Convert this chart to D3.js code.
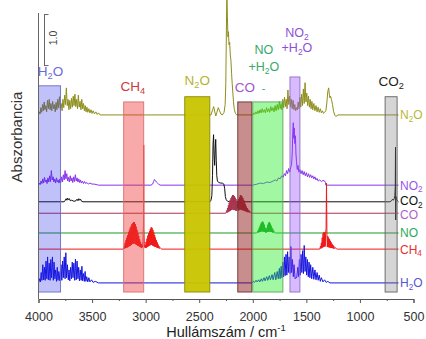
<!DOCTYPE html>
<html><head><meta charset="utf-8">
<script src="https://cdn.jsdelivr.net/npm/d3@7"></script>
<style>body{margin:0;background:#fff}svg{display:block}text{font-family:"Liberation Sans",Arial,sans-serif}</style>
</head><body><svg id="c" width="426" height="339"></svg>
<script>
// ---------------- DATA ----------------
const xTicks = [4000, 3500, 3000, 2500, 2000, 1500, 1000, 500];
const xMinorTicks = [3750, 3250, 2750, 2250, 1750, 1250, 750];
const seriesNames = ["N_2O", "NO_2", "CO_2", "CO", "NO", "CH_4", "H_2O"];
const seriesOffsets = [3.52, 2.17, 1.85, 1.63, 1.25, 0.94, 0.29];

const specN2O = [[4000,0],[3992,0.06],[3985,0.02],[3978,0.14],[3970,0.05],[3962,0.2],[3955,0.08],[3947,0.25],[3940,0.1],[3932,0.18],[3924,0.06],[3916,0.28],[3908,0.12],[3900,0.3],[3892,0.1],[3884,0.22],[3876,0.08],[3868,0.26],[3860,0.12],[3852,0.2],[3844,0.06],[3836,0.24],[3828,0.1],[3820,0.3],[3812,0.14],[3804,0.35],[3796,0.12],[3788,0.22],[3780,0.08],[3772,0.3],[3764,0.14],[3756,0.38],[3748,0.2],[3740,0.52],[3732,0.18],[3724,0.3],[3716,0.1],[3708,0.28],[3700,0.12],[3692,0.32],[3684,0.15],[3676,0.36],[3668,0.18],[3660,0.4],[3652,0.16],[3644,0.3],[3636,0.12],[3628,0.38],[3620,0.15],[3612,0.26],[3604,0.1],[3596,0.3],[3588,0.12],[3580,0.22],[3572,0.08],[3564,0.18],[3556,0.06],[3548,0.15],[3540,0.05],[3530,0.12],[3520,0.04],[3510,0.1],[3500,0.03],[3490,0.08],[3478,0.02],[3465,0.06],[3452,0.01],[3440,0.04],[3425,0],
  [2390,0],[2375,0.1],[2365,0.16],[2355,0.06],[2345,-0.02],[2335,0.05],[2322,0.14],[2310,0.08],[2298,0.02],[2285,0],[2268,0.05],[2258,0.2],[2252,0.6],[2247,1.5],[2242,2.4],[2237,1.9],[2232,1.5],[2227,1.6],[2222,1.35],[2216,1.4],[2210,1.15],[2204,1.05],[2198,0.8],[2192,0.6],[2186,0.42],[2180,0.25],[2172,0.1],[2162,0.03],[2150,0],
  [2000,0],[1990,0.04],[1982,0.01],[1972,0.06],[1962,0.02],[1952,0.08],[1942,0.03],[1932,0.1],[1922,0.04],[1912,0.12],[1902,0.05],[1892,0.1],[1882,0.04],[1872,0.14],[1862,0.06],[1852,0.12],[1842,0.05],[1832,0.16],[1822,0.08],[1812,0.14],[1802,0.06],[1792,0.18],[1782,0.08],[1772,0.2],[1762,0.1],[1752,0.26],[1744,0.12],[1736,0.22],[1728,0.1],[1720,0.3],[1712,0.14],[1704,0.34],[1696,0.16],[1688,0.3],[1680,0.12],[1672,0.48],[1664,0.2],[1656,0.36],[1648,0.15],[1640,0.3],[1632,0.12],[1624,0.28],[1616,0.1],[1608,0.2],[1600,0.08],[1592,0.14],[1584,0.1],[1576,0.25],[1568,0.12],[1560,0.34],[1552,0.15],[1544,0.4],[1536,0.18],[1528,0.5],[1520,0.22],[1512,0.62],[1504,0.25],[1496,0.42],[1488,0.18],[1480,0.36],[1472,0.15],[1464,0.3],[1456,0.12],[1448,0.26],[1440,0.1],[1430,0.22],[1420,0.08],[1410,0.18],[1400,0.06],[1390,0.15],[1380,0.05],[1370,0.12],[1360,0.04],[1350,0.08],[1340,0.03],[1330,0.05],
  [1318,0.08],[1308,0.25],[1300,0.45],[1292,0.52],[1286,0.4],[1280,0.33],[1274,0.36],[1266,0.3],[1256,0.2],[1246,0.07],[1236,0],[1225,-0.03],[1205,0],[640,0]];

const specNO2 = [[4000,0],[3992,0.04],[3984,0.01],[3976,0.08],[3968,0.03],[3960,0.12],[3952,0.04],[3944,0.15],[3936,0.06],[3928,0.1],[3920,0.03],[3912,0.14],[3904,0.06],[3896,0.18],[3888,0.07],[3880,0.28],[3872,0.1],[3864,0.16],[3856,0.06],[3848,0.12],[3840,0.04],[3832,0.14],[3824,0.06],[3816,0.1],[3808,0.04],[3800,0.12],[3792,0.05],[3784,0.16],[3776,0.06],[3768,0.2],[3760,0.1],[3752,0.28],[3744,0.12],[3736,0.22],[3728,0.08],[3720,0.15],[3712,0.06],[3704,0.18],[3696,0.08],[3688,0.14],[3680,0.05],[3672,0.16],[3664,0.07],[3656,0.2],[3648,0.08],[3640,0.14],[3632,0.06],[3624,0.12],[3616,0.05],[3608,0.1],[3600,0.04],[3590,0.08],[3580,0.03],[3570,0.07],[3560,0.03],[3548,0.05],[3535,0.02],[3520,0.04],[3500,0.02],[3480,0.02],[3440,0],
  [2950,0],[2935,0.02],[2925,0.07],[2918,0.11],[2910,0.09],[2900,0.06],[2890,0.04],[2880,0.02],[2865,0],
  [2000,0],[1960,0.02],[1930,0.04],[1900,0.03],[1870,0.06],[1840,0.05],[1810,0.08],[1790,0.1],[1775,0.08],[1760,0.14],[1745,0.12],[1730,0.18],[1718,0.15],[1705,0.22],[1695,0.18],[1685,0.28],[1675,0.22],[1665,0.32],[1655,0.25],[1645,0.35],[1638,0.4],[1632,0.6],[1627,1.0],[1622,1.2],[1618,0.9],[1613,1.1],[1608,0.8],[1602,0.95],[1597,0.6],[1592,0.45],[1585,0.3],[1578,0.38],[1570,0.25],[1560,0.3],[1550,0.22],[1540,0.28],[1530,0.2],[1520,0.26],[1510,0.18],[1500,0.24],[1490,0.16],[1480,0.22],[1470,0.15],[1460,0.2],[1450,0.14],[1440,0.18],[1430,0.12],[1420,0.16],[1410,0.1],[1400,0.13],[1390,0.08],[1375,0.1],[1360,0.07],[1345,0.09],[1330,0.08],[1322,0.05],[1318,0],[640,0]];

const specCO2 = [[4000,0],[3760,0],[3750,0.03],[3742,0.06],[3735,0.03],[3728,0.07],[3720,0.04],[3712,0.06],[3704,0.02],[3690,0.03],[3670,0.01],[3650,0.02],[3640,0.05],[3632,0.02],[3624,0.06],[3616,0.03],[3608,0.05],[3598,0.01],[3585,0],
  [2400,0],[2390,0.03],[2382,0.12],[2376,0.5],[2371,1.1],[2366,1.29],[2361,0.9],[2356,0.7],[2351,1.0],[2346,1.2],[2341,0.8],[2336,0.5],[2330,0.4],[2318,0.37],[2300,0.36],[2285,0.36],[2270,0.34],[2262,0.25],[2256,0.1],[2248,0.04],[2235,0.01],[2220,0],
  [720,0],[705,0.02],[695,0.05],[688,0.03],[680,0.06],[674,0.12],[670,0.3],[668,1.05],[666,-0.35],[664,0.1],[658,0.04],[650,0.02],[640,0]];

const specCO = [[4000,0],[2252,0],[2248,0.02],[2244,0.05],[2240,0.01],[2236,0.1],[2232,0.02],[2228,0.15],[2224,0.03],[2220,0.2],[2216,0.04],[2212,0.25],[2208,0.05],[2204,0.29],[2200,0.06],[2196,0.32],[2192,0.07],[2188,0.35],[2184,0.07],[2180,0.35],[2176,0.06],[2172,0.33],[2168,0.06],[2164,0.3],[2160,0.05],[2156,0.27],[2152,0.05],[2148,0.23],[2144,0.1],[2140,0.22],[2136,0.05],[2132,0.27],[2128,0.06],[2124,0.31],[2120,0.07],[2116,0.35],[2112,0.07],[2108,0.34],[2104,0.06],[2100,0.32],[2096,0.06],[2092,0.29],[2088,0.05],[2084,0.25],[2080,0.05],[2076,0.21],[2072,0.04],[2068,0.17],[2064,0.03],[2060,0.13],[2056,0.03],[2052,0.1],[2048,0.02],[2044,0.07],[2040,0.02],[2034,0.05],[2028,0.01],[2020,0.02],[2010,0],[640,0]];

const specNO = [[4000,0],[1964,0],[1960,0.01],[1956,0.03],[1952,0.01],[1948,0.06],[1944,0.01],[1940,0.1],[1936,0.02],[1932,0.14],[1928,0.02],[1924,0.18],[1920,0.03],[1916,0.21],[1912,0.03],[1908,0.22],[1904,0.03],[1900,0.2],[1896,0.02],[1892,0.16],[1888,0.02],[1884,0.1],[1880,0.01],[1876,0.05],[1872,0.01],[1868,0.1],[1864,0.02],[1860,0.16],[1856,0.02],[1852,0.2],[1848,0.03],[1844,0.21],[1840,0.02],[1836,0.18],[1832,0.02],[1828,0.14],[1824,0.02],[1820,0.1],[1816,0.01],[1812,0.07],[1808,0.01],[1804,0.04],[1798,0.01],[1790,0],[640,0]];

const specCH4 = [[4000,0],[3208,0],[3204,0.02],[3200,0.06],[3196,0.01],[3192,0.12],[3188,0.02],[3184,0.17],[3180,0.03],[3176,0.22],[3172,0.03],[3168,0.27],[3164,0.04],[3160,0.32],[3156,0.05],[3152,0.36],[3148,0.06],[3144,0.41],[3140,0.07],[3136,0.44],[3132,0.08],[3128,0.48],[3124,0.1],[3120,0.5],[3116,0.1],[3112,0.52],[3108,0.12],[3104,0.52],[3100,0.1],[3096,0.48],[3092,0.09],[3088,0.43],[3084,0.08],[3080,0.37],[3076,0.07],[3072,0.31],[3068,0.06],[3064,0.25],[3060,0.05],[3056,0.19],[3052,0.04],[3048,0.14],[3044,0.03],[3040,0.1],[3036,0.02],[3032,0.07],[3028,0.04],[3024,0.15],[3020,0.5],[3018,2.0],[3016,0.4],[3012,0.08],[3008,0.03],
  [3004,0.08],[3000,0.02],[2996,0.14],[2992,0.03],[2988,0.2],[2984,0.04],[2980,0.26],[2976,0.05],[2972,0.31],[2968,0.06],[2964,0.35],[2960,0.07],[2956,0.39],[2952,0.08],[2948,0.42],[2944,0.08],[2940,0.41],[2936,0.07],[2932,0.37],[2928,0.06],[2924,0.32],[2920,0.05],[2916,0.27],[2912,0.04],[2908,0.22],[2904,0.04],[2900,0.17],[2896,0.03],[2892,0.13],[2888,0.02],[2884,0.09],[2880,0.02],[2876,0.06],[2872,0.01],[2866,0.03],[2858,0.01],[2850,0],
  [1376,0],[1372,0.02],[1368,0.06],[1364,0.01],[1360,0.12],[1356,0.02],[1352,0.22],[1348,0.03],[1344,0.3],[1340,0.04],[1336,0.33],[1332,0.05],[1328,0.32],[1324,0.05],[1320,0.3],[1316,0.4],[1312,1.27],[1308,0.28],[1304,0.04],[1300,0.25],[1296,0.04],[1292,0.22],[1288,0.03],[1284,0.19],[1280,0.03],[1276,0.16],[1272,0.02],[1268,0.13],[1264,0.02],[1260,0.1],[1256,0.02],[1252,0.08],[1248,0.01],[1244,0.06],[1240,0.01],[1232,0.03],[1222,0.01],[1210,0],[640,0]];

const specH2O = [[4000,0],[3990,0.08],[3982,0.02],[3975,0.2],[3968,0.05],[3960,0.35],[3952,0.06],[3945,0.3],[3938,0.05],[3930,0.42],[3922,0.08],[3915,0.5],[3908,0.06],[3900,0.38],[3892,0.05],[3885,0.45],[3878,0.1],[3870,0.5],[3862,0.05],[3855,0.4],[3847,0.08],[3840,0.25],[3832,0.03],[3825,0.3],[3818,0.05],[3810,0.22],[3800,0.04],[3790,0.35],[3782,0.05],[3775,0.42],[3768,0.1],[3760,0.5],[3752,0.08],[3745,0.58],[3738,0.1],[3730,0.35],[3722,0.06],[3715,0.25],[3708,0.04],[3700,0.3],[3692,0.08],[3685,0.4],[3678,0.1],[3670,0.38],[3662,0.05],[3655,0.46],[3648,0.06],[3640,0.42],[3632,0.08],[3625,0.3],[3618,0.04],[3610,0.25],[3602,0.05],[3595,0.32],[3588,0.04],[3580,0.18],[3572,0.03],[3565,0.22],[3558,0.03],[3550,0.12],[3540,0.02],[3530,0.1],[3520,0.02],[3505,0.06],[3490,0.01],[3470,0.03],[3440,0],
  [2010,0],[1995,0.03],[1985,0.01],[1970,0.05],[1960,0.02],[1945,0.06],[1935,0.02],[1920,0.08],[1910,0.03],[1895,0.1],[1885,0.04],[1870,0.12],[1860,0.05],[1845,0.14],[1835,0.06],[1820,0.16],[1810,0.06],[1795,0.2],[1785,0.06],[1772,0.22],[1762,0.08],[1752,0.28],[1745,0.08],[1735,0.32],[1728,0.1],[1720,0.4],[1712,0.12],[1705,0.5],[1698,0.14],[1690,0.55],[1682,0.15],[1675,0.6],[1668,0.2],[1660,0.5],[1652,0.18],[1645,0.7],[1638,0.2],[1630,0.45],[1622,0.12],[1615,0.35],[1605,0.08],[1597,0.1],[1590,0.1],[1580,0.3],[1572,0.12],[1565,0.45],[1557,0.15],[1550,0.55],[1542,0.2],[1535,0.62],[1527,0.18],[1520,0.72],[1512,0.22],[1505,0.5],[1497,0.15],[1490,0.45],[1482,0.12],[1475,0.4],[1467,0.1],[1460,0.35],[1450,0.08],[1440,0.3],[1430,0.07],[1420,0.25],[1410,0.06],[1400,0.2],[1390,0.05],[1380,0.15],[1370,0.03],[1360,0.1],[1345,0.02],[1330,0.06],[1315,0.01],[1300,0.03],[1280,0],[640,0]];

const seriesData = [specN2O, specNO2, specCO2, specCO, specNO, specCH4, specH2O];

// highlighted bands
const regionLabels = [["H_2O"], ["CH_4"], ["N_2O"], ["CO"], ["NO", "+H_2O"], ["NO_2", "+H_2O"], ["CO_2"]];
const regionStart = [4000, 3205, 2635, 2140, 2000, 1653, 765];
const regionEnd = [3794, 3018, 2401, 2009, 1719, 1560, 653];
const regionTop = [4.08, 3.77, 3.87, 3.77, 3.77, 4.25, 3.87];
const regionBottom = 0.115;
const scaleBarValue = 1.0;

// ---------------- STYLE / LAYOUT ----------------
const lineColors = ["#8e8e1c", "#8833ee", "#111111", "#a8344e", "#1a9a2a", "#f01818", "#1515e0"];
const rightLabelColors = ["#b8b838", "#9a55e8", "#111111", "#b060c8", "#2aaa5a", "#e83030", "#5555d8"];
const rightLabelDy = [4.5, 4.5, 3.5, 5.5, 4.5, 4.5, 4.5];
const regionFill = ["#2020e8", "#ee3333", "#c8c400", "#8b1010", "#22ee22", "#9040ff", "#808080"];
const regionOpacity = [0.28, 0.42, 0.95, 0.48, 0.42, 0.36, 0.33];
const regionStroke = ["#6a6ac8", "#d87070", "#8a8a00", "#6a3030", "#60a060", "#9070c0", "#606060"];
const regionLabelColors = ["#6a6ad8", "#cc3a3a", "#b4b430", "#a455c8", "#3aa86a", "#8e4fd8", "#222222"];
const regionLabelPos = [[1, -10], [-1, -11], [0, -12], [0, -10], [-4, -48], [2, -40], [0, -11]];
const regionLabelGap = [0, 0, 0, 0, 17, 15, 0];

const svg = d3.select("#c");
const x = d3.scaleLinear().domain([4000, 500]).range([38.5, 413.5]);
const y = d3.scaleLinear().domain([0, 5.73]).range([298, 0]);

function richText(g, str, px, py, size, color, anchor) {
  const t = g.append("text").attr("x", px).attr("y", py).attr("font-size", size)
    .attr("fill", color).attr("text-anchor", anchor || "middle");
  const parts = str.split(/(_\d)/).filter(s => s.length);
  let sub = false;
  parts.forEach(p => {
    if (p[0] === "_") {
      t.append("tspan").attr("font-size", size * 0.68).attr("dy", size * 0.22).text(p.slice(1));
      sub = true;
    } else {
      const ts = t.append("tspan").text(p);
      if (sub) { ts.attr("dy", -size * 0.22); sub = false; }
    }
  });
  return t;
}

// traces
const line = d3.line();
const gTr = svg.append("g");
seriesData.forEach((s, i) => {
  const off = seriesOffsets[i];
  gTr.append("path")
    .attr("d", line.x(d => x(d[0])).y(d => y(off + d[1]))(s))
    .attr("fill", "none").attr("stroke", lineColors[i]).attr("stroke-width", 1)
    .attr("stroke-linejoin", "round");
});

// region rectangles (translucent, over traces)
const gReg = svg.append("g");
regionStart.forEach((ws, i) => {
  const x0 = x(ws), x1 = x(regionEnd[i]);
  gReg.append("rect")
    .attr("x", x0).attr("width", x1 - x0)
    .attr("y", y(regionTop[i])).attr("height", y(regionBottom) - y(regionTop[i]))
    .attr("fill", regionFill[i]).attr("fill-opacity", regionOpacity[i])
    .attr("stroke", regionStroke[i]).attr("stroke-width", 0.9);
  const cx = (x0 + x1) / 2 + regionLabelPos[i][0];
  const cy = y(regionTop[i]) + regionLabelPos[i][1];
  const fs = regionLabels[i].length > 1 ? 12.5 : 13.5;
  regionLabels[i].forEach((lab, k) => {
    richText(svg, lab, cx, cy + k * regionLabelGap[i], fs, regionLabelColors[i], "middle");
  });
});
// small stray dash near the NO band label
svg.append("text").attr("x", x(1900)).attr("y", y(3.77) - 10).attr("font-size", 11)
  .attr("fill", "#3aa86a").attr("text-anchor", "middle").text("-");

// right-hand series labels
seriesNames.forEach((n, i) => {
  richText(svg, n, 400, y(seriesOffsets[i]) + rightLabelDy[i], 12, rightLabelColors[i], "start");
});

// left axis line
svg.append("line").attr("x1", 38.5).attr("x2", 38.5).attr("y1", 13).attr("y2", 299)
  .attr("stroke", "#666").attr("stroke-width", 1);

// scale bar
const sbBase = 4.46;
const sb = svg.append("g").attr("stroke", "#666").attr("stroke-width", 1);
sb.append("line").attr("x1", 44.5).attr("x2", 44.5).attr("y1", y(sbBase)).attr("y2", y(sbBase + scaleBarValue));
sb.append("line").attr("x1", 44.5).attr("x2", 48.5).attr("y1", y(sbBase + scaleBarValue) + 0.5).attr("y2", y(sbBase + scaleBarValue) + 0.5);
sb.append("line").attr("x1", 44.5).attr("x2", 48.5).attr("y1", y(sbBase) - 0.5).attr("y2", y(sbBase) - 0.5);
svg.append("text").attr("transform", `translate(57,${(y(sbBase) + y(sbBase + scaleBarValue)) / 2 - 2}) rotate(-90)`)
  .attr("text-anchor", "middle").attr("font-size", 10.5).attr("fill", "#444").text(d3.format(".1f")(scaleBarValue));

// x axis
const gx = svg.append("g").attr("transform", "translate(0,299)")
  .call(d3.axisBottom(x).tickValues(xTicks).tickSize(4).tickFormat(d3.format("d")));
gx.select(".domain").attr("stroke", "#555");
gx.selectAll(".tick line").attr("stroke", "#555");
gx.selectAll(".tick text").attr("y", 22).attr("dy", 0).attr("font-size", 12.5)
  .attr("fill", "#333").attr("font-family", '"Liberation Sans",Arial,sans-serif');
const gxm = svg.append("g").attr("transform", "translate(0,299)")
  .call(d3.axisBottom(x).tickValues(xMinorTicks).tickSize(2).tickFormat(""));
gxm.select(".domain").remove();
gxm.selectAll(".tick line").attr("stroke", "#555");

// axis titles
const xt = svg.append("text").attr("x", 226).attr("y", 337).attr("text-anchor", "middle")
  .attr("font-size", 14.5).attr("fill", "#222");
xt.append("tspan").text("Hullámszám / cm");
xt.append("tspan").attr("font-size", 9.5).attr("dy", -6).text("-1");
svg.append("text").attr("transform", "translate(22,137) rotate(-90)").attr("text-anchor", "middle")
  .attr("font-size", 15).attr("fill", "#333").text("Abszorbancia");
</script></body></html>
